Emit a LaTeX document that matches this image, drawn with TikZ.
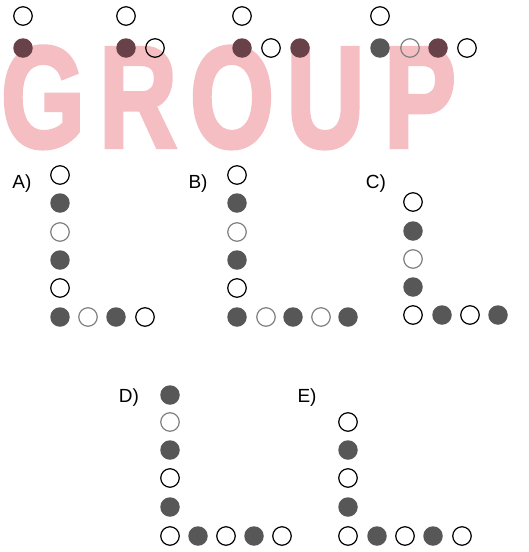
\documentclass[tikz,border=0pt]{standalone}
\usepackage{fontspec}
\setmainfont{Liberation Sans}
\newfontfamily\wmfont{Liberation Sans Bold}[FakeBold=3]
\begin{document}
\begin{tikzpicture}[x=1pt,y=-1pt,
  fd/.style={circle,fill=black!66,draw=none,minimum size=19.5pt,inner sep=0pt},
  fr/.style={circle,fill=wmdot,draw=none,minimum size=19.5pt,inner sep=0pt},
  od/.style={circle,draw=black,line width=1.2pt,fill=none,minimum size=18.5pt,inner sep=0pt},
  og/.style={circle,draw=black!50,line width=1.2pt,fill=none,minimum size=18.5pt,inner sep=0pt},
  lab/.style={anchor=base,inner sep=0pt,font=\fontsize{19}{19}\selectfont},
  wmtext/.style={anchor=base,inner sep=0pt,text=wmpink,xscale=0.75,
    font=\wmfont\fontsize{144}{144}\selectfont}]
\definecolor{wmpink}{RGB}{244,190,195}
\definecolor{wmdot}{RGB}{104,66,72}
\useasboundingbox (0,0) rectangle (529,552);
% watermark
\node[wmtext] (wmG) at (43,147) {G};
\node[wmtext] (wmR) at (138,147) {R};
\node[wmtext] (wmO) at (232,147) {O};
\node[wmtext] (wmU) at (325.5,147) {U};
\node[wmtext] (wmP) at (420,147) {P};
% top sequence
\node[od] (t1a) at (23,16) {};
\node[fr] (t1b) at (23,48) {};
\node[od] (t2a) at (126,16) {};
\node[fr] (t2b) at (126,48) {};
\node[od] (t2c) at (155,48) {};
\node[od] (t3a) at (242,16) {};
\node[fr] (t3b) at (242,48) {};
\node[od] (t3c) at (271,48) {};
\node[fr] (t3d) at (300,48) {};
\node[od] (t4a) at (380,16) {};
\node[fd] (t4b) at (380,48) {};
\node[og] (t4c) at (410,48) {};
\node[fr] (t4d) at (438,48) {};
\node[od] (t4e) at (467,48) {};
% A
\node[lab] (la) at (22,188) {A)};
\node[od] (a1) at (60,175) {};
\node[fd] (a2) at (60,203) {};
\node[og] (a3) at (60,232) {};
\node[fd] (a4) at (60,260) {};
\node[od] (a5) at (60,288) {};
\node[fd] (a6) at (60,317) {};
\node[og] (a7) at (88,317) {};
\node[fd] (a8) at (116,317) {};
\node[od] (a9) at (145,317) {};
% B
\node[lab] (lb) at (198,188) {B)};
\node[od] (b1) at (237,175) {};
\node[fd] (b2) at (237,203) {};
\node[og] (b3) at (237,232) {};
\node[fd] (b4) at (237,260) {};
\node[od] (b5) at (237,288) {};
\node[fd] (b6) at (237,317) {};
\node[og] (b7) at (266,317) {};
\node[fd] (b8) at (293,317) {};
\node[og] (b9) at (321,317) {};
\node[fd] (b10) at (348,317) {};
% C
\node[lab] (lc) at (376,188) {C)};
\node[od] (c1) at (413,202) {};
\node[fd] (c2) at (413,231) {};
\node[og] (c3) at (413,259) {};
\node[fd] (c4) at (413,287) {};
\node[od] (c5) at (413,315) {};
\node[fd] (c6) at (442,315) {};
\node[od] (c7) at (470,315) {};
\node[fd] (c8) at (498,315) {};
% D
\node[lab] (ld) at (129,402) {D)};
\node[fd] (d1) at (170,395) {};
\node[og] (d2) at (170,422) {};
\node[fd] (d3) at (170,450) {};
\node[od] (d4) at (170,478) {};
\node[fd] (d5) at (170,507) {};
\node[od] (d6) at (170,536) {};
\node[fd] (d7) at (198,536) {};
\node[od] (d8) at (226,536) {};
\node[fd] (d9) at (254,536) {};
\node[od] (d10) at (282,536) {};
% E
\node[lab] (le) at (307,402) {E)};
\node[od] (e1) at (348,422) {};
\node[fd] (e2) at (348,450) {};
\node[od] (e3) at (348,478) {};
\node[fd] (e4) at (348,507) {};
\node[od] (e5) at (348,536) {};
\node[fd] (e6) at (377,536) {};
\node[od] (e7) at (405,536) {};
\node[fd] (e8) at (433,536) {};
\node[od] (e9) at (462,536) {};
\end{tikzpicture}
\end{document}
